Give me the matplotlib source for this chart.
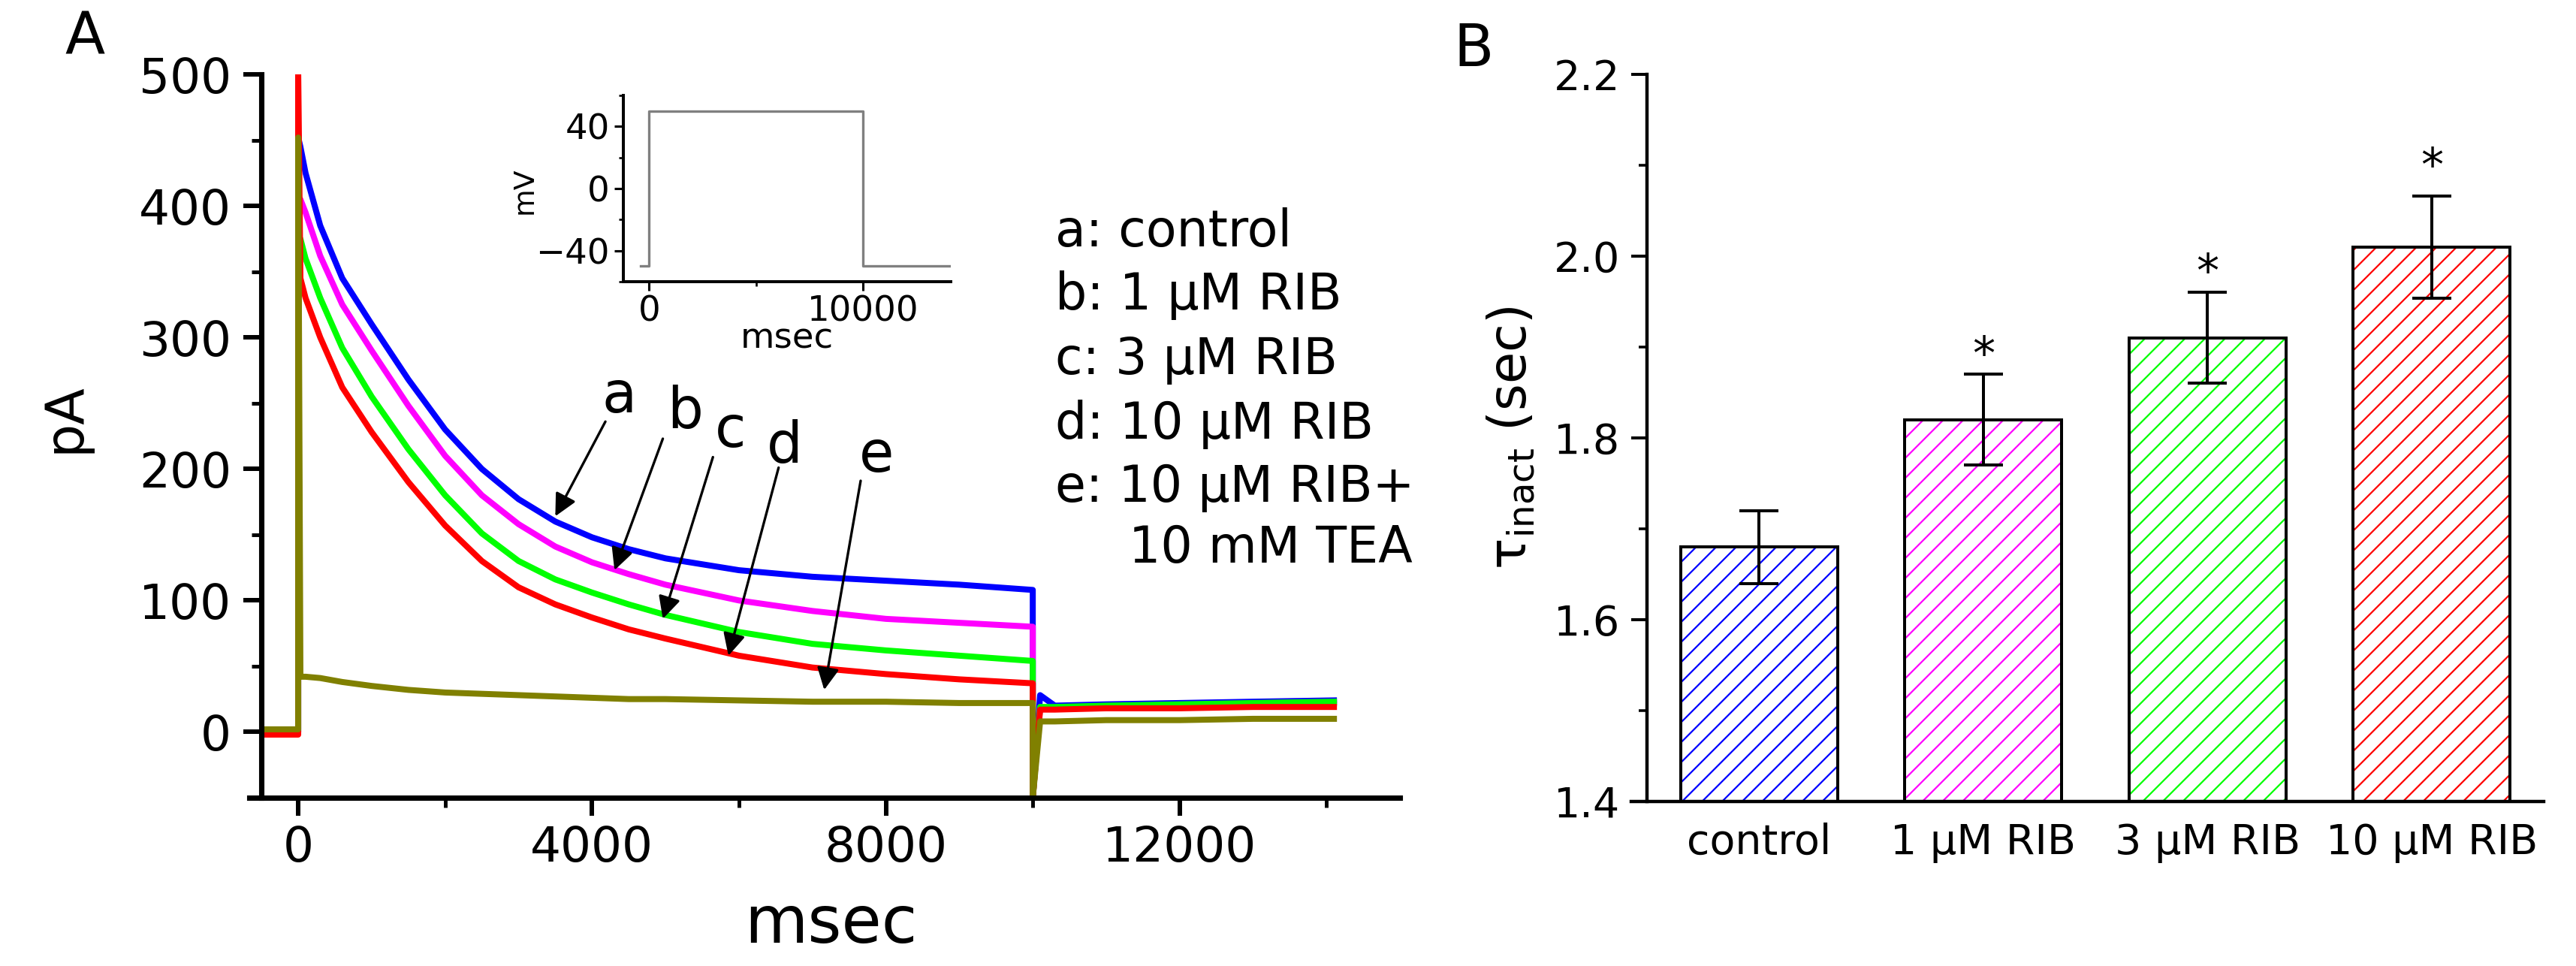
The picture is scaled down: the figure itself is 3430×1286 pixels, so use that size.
"""Two-panel figure: K+ current traces (A) and inactivation time constants (B)."""
import numpy as np
import matplotlib; matplotlib.use("Agg")
import matplotlib.pyplot as plt
from matplotlib.ticker import MultipleLocator, FormatStrFormatter

plt.rcParams["font.family"] = ["DejaVu Sans"]
plt.rcParams["mathtext.default"] = "regular"
plt.rcParams["hatch.linewidth"] = 1.0

# ---- panel A data: currents (pA) sampled at t_ms ----
t_ms = [-500, 0, 0, 30, 100, 300, 600, 1000, 1500, 2000, 2500, 3000, 3500, 4000,
        4500, 5000, 6000, 7000, 8000, 9000, 10000, 10000, 10100, 10300, 11000,
        12000, 13000, 14100]
i_a = [0, 0, 452, 445, 425, 385, 345, 310, 268, 230, 200, 177, 160, 148,
       139, 132, 123, 118, 115, 112, 108, -50, 28, 20, 21, 22, 23, 24]
i_b = [0, 0, 405, 405, 395, 362, 325, 290, 248, 210, 180, 158, 141, 129,
       120, 112, 100, 92, 86, 83, 80, -50, 19, 18, 19, 20, 21, 22]
i_c = [0, 0, 375, 375, 360, 330, 292, 255, 215, 180, 151, 130, 116, 106,
       97, 89, 76, 67, 62, 58, 54, -50, 19, 19, 20, 21, 22, 23]
i_d = [-2, -2, 500, 345, 330, 300, 262, 228, 190, 157, 130, 110, 97, 87,
       78, 71, 58, 49, 44, 40, 37, -50, 17, 17, 18, 18, 19, 19]
i_e = [2, 2, 452, 42, 42, 41, 38, 35, 32, 30, 29, 28, 27, 26,
       25, 25, 24, 23, 23, 22, 22, -50, 8, 8, 9, 9, 10, 10]
trace_colors = ["#0000FF", "#FF00FF", "#00FF00", "#FF0000", "#808000"]

# voltage protocol (inset)
step_t = [-400, 0, 0, 10000, 10000, 14100]
step_mv = [-50, -50, 50, 50, -50, -50]

legend_lines = ["a: control", "b: 1 \u03bcM RIB", "c: 3 \u03bcM RIB",
                "d: 10 \u03bcM RIB", "e: 10 \u03bcM RIB+", "10 mM TEA"]
arrow_letters = ["a", "b", "c", "d", "e"]

# ---- panel B data ----
groups = ["control", "1 \u03bcM RIB", "3 \u03bcM RIB", "10 \u03bcM RIB"]
tau = [1.68, 1.82, 1.91, 2.01]
tau_err = [0.04, 0.05, 0.05, 0.056]
star_y = [np.nan, 1.906, 1.997, 2.114]
bar_colors = ["#0000FF", "#FF00FF", "#00FF00", "#FF0000"]

fig = plt.figure(figsize=(3430/160, 1286/160), dpi=160)

# ================= panel A =================
axA = fig.add_axes([0.1015, 0.1742, 0.4420, 0.7488])
for vals, col in zip([i_a, i_b, i_c, i_d, i_e], trace_colors):
    axA.plot(t_ms, vals, color=col, lw=3.6)
axA.set_xlim(-500, 15000)
axA.set_ylim(-50, 500)
for s in ["top", "right"]:
    axA.spines[s].set_visible(False)
for s in ["left", "bottom"]:
    axA.spines[s].set_linewidth(3.2)
axA.spines["bottom"].set_bounds(-670, 15000)
axA.xaxis.set_major_locator(MultipleLocator(4000))
axA.xaxis.set_minor_locator(MultipleLocator(2000))
axA.yaxis.set_major_locator(MultipleLocator(100))
axA.yaxis.set_minor_locator(MultipleLocator(50))
axA.tick_params(which="major", direction="out", length=11, width=2.7, labelsize=29)
axA.tick_params(which="minor", direction="out", length=6, width=2.2)
axA.tick_params(axis="y", pad=7)
axA.tick_params(axis="x", pad=5)
axA.set_xlabel("msec", fontsize=39)
axA.xaxis.set_label_coords(0.5, -0.132)
axA.set_ylabel("pA", fontsize=32)
axA.yaxis.set_label_coords(-0.150, 0.525)

# legend-like text block
leg_x = [10307, 10307, 10307, 10307, 10307, 11309]
leg_y = [369, 321, 272, 223, 175, 129]
for s, lx, ly in zip(legend_lines, leg_x, leg_y):
    axA.text(lx, ly, s, fontsize=30, ha="left", va="baseline")

# letter labels with arrows pointing at the traces
lab_xy = [(4368, 243), (5262, 231), (5882, 217), (6627, 205), (7868, 198)]
arr_tail = [(4182, 236), (4964, 223), (5646, 209), (6540, 201), (7657, 191)]
arr_tip = [(3500, 164), (4306, 123), (4964, 86), (5857, 58), (7161, 32)]
for letter, lxy, tail, tip in zip(arrow_letters, lab_xy, arr_tail, arr_tip):
    axA.text(lxy[0], lxy[1], letter, fontsize=34, ha="center", va="baseline")
    axA.annotate("", xy=tip, xytext=tail,
                 arrowprops=dict(arrowstyle="-|>", color="k", lw=1.5,
                                 mutation_scale=28, shrinkA=0, shrinkB=0))

# inset: voltage step
axI = fig.add_axes([0.2420, 0.7084, 0.1271, 0.1928])
axI.plot(step_t, step_mv, color="#808080", lw=1.5)
axI.set_xlim(-1200, 14100)
axI.set_ylim(-60, 60)
for s in ["top", "right"]:
    axI.spines[s].set_visible(False)
for s in ["left", "bottom"]:
    axI.spines[s].set_linewidth(1.8)
axI.xaxis.set_major_locator(MultipleLocator(10000))
axI.xaxis.set_minor_locator(MultipleLocator(5000))
axI.yaxis.set_major_locator(MultipleLocator(40))
axI.yaxis.set_minor_locator(MultipleLocator(20))
axI.tick_params(which="major", length=5.4, width=1.4, labelsize=21, pad=2.7)
axI.tick_params(which="minor", length=2.7, width=1.2)
axI.set_xlabel("msec", fontsize=21)
axI.xaxis.set_label_coords(0.5, -0.215)
axI.set_ylabel("mV", fontsize=17)
axI.yaxis.set_label_coords(-0.26, 0.49)

# ================= panel B =================
axB = fig.add_axes([0.6394, 0.1703, 0.3481, 0.7527])
xb = np.arange(len(groups))
axB.bar(xb, tau, 0.7, color="white", edgecolor=bar_colors, hatch="//", lw=0)
axB.bar(xb, tau, 0.7, fill=False, edgecolor="k", lw=1.8)
axB.errorbar(xb, tau, yerr=tau_err, fmt="none", ecolor="k", elinewidth=1.8,
             capsize=11.7, capthick=1.8, zorder=3)
for xi, sy in zip(xb, star_y):
    if not np.isnan(sy):
        axB.annotate("*", (xi, sy), xytext=(0, -9), textcoords="offset points",
                     ha="center", va="center", fontsize=27)
axB.set_xlim(-0.5, 3.5)
axB.set_ylim(1.4, 2.2)
for s in ["top", "right"]:
    axB.spines[s].set_visible(False)
for s in ["left", "bottom"]:
    axB.spines[s].set_linewidth(2.0)
axB.spines["bottom"].set_bounds(-0.57, 3.5)
axB.set_xticks(xb)
axB.set_xticklabels(groups)
axB.yaxis.set_major_locator(MultipleLocator(0.2))
axB.yaxis.set_minor_locator(MultipleLocator(0.1))
axB.yaxis.set_major_formatter(FormatStrFormatter("%.1f"))
axB.tick_params(axis="x", length=0, labelsize=25, pad=12.6)
axB.tick_params(axis="y", which="major", length=9.5, width=1.8, labelsize=25, pad=6.7)
axB.tick_params(axis="y", which="minor", length=5, width=1.6)
axB.set_ylabel(r"$\tau_{inact}$ (sec)", fontsize=31)
axB.yaxis.set_label_coords(-0.123, 0.5)

# panel letters
fig.text(0.0329, 0.944, "A", fontsize=35, ha="center", va="baseline")
fig.text(0.572, 0.9316, "B", fontsize=35, ha="center", va="baseline")

fig.savefig("out.png", dpi=160)
plt.close(fig)
